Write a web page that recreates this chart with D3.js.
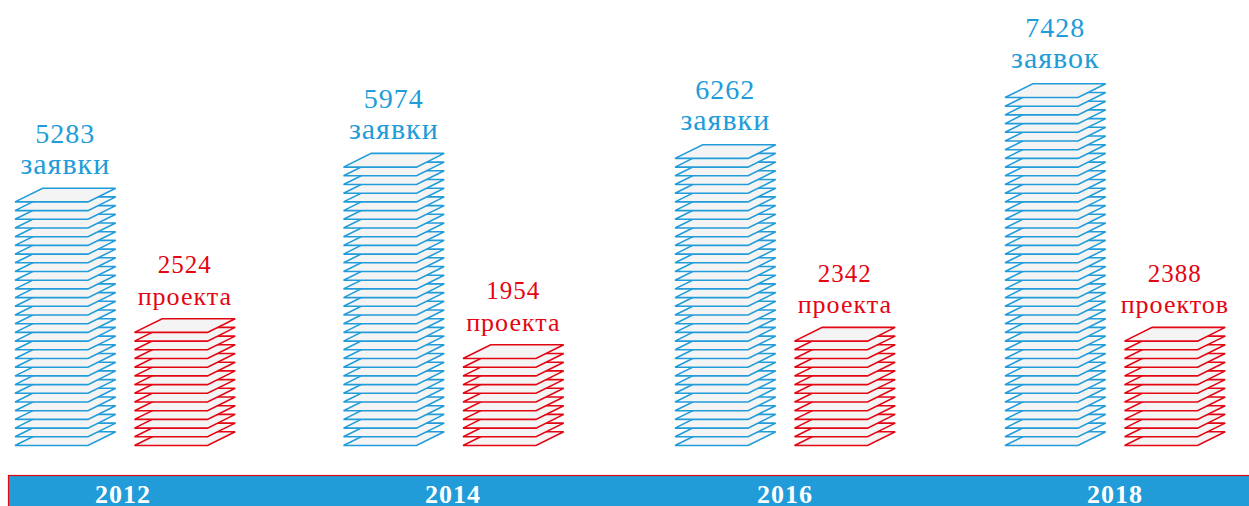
<!DOCTYPE html>
<html>
<head>
<meta charset="utf-8">
<script src="https://cdnjs.cloudflare.com/ajax/libs/d3/7.8.5/d3.min.js"></script>
<style>
html, body { margin: 0; padding: 0; background: #fff; overflow: hidden; }
text { font-family: "Liberation Serif", serif; text-anchor: middle; }
</style>
</head>
<body>
<div id="canvas"></div>
<script>
"use strict"

let svgWidth = 1249;
let svgHeight = 506;

/* Values */
let years = ["2012", "2014", "2016", "2018"];
let applications = [5283, 5974, 6262, 7428];
let applicationWords = ["заявки", "заявки", "заявки", "заявок"];
let projects = [2524, 1954, 2342, 2388];
let projectWords = ["проекта", "проекта", "проекта", "проектов"];
/* number of sheets drawn in each stack */
let applicationSheets = [29, 33, 34, 41];
let projectSheets = [14, 11, 13, 13];

let blue = "#219cd9";
let red = "#e30613";
let sheetFill = "#f4f4f4";

let sheetWidth = 73;
let sheetSkew = 27.7;
let sheetDepth = 13.7;
let redOffset = 119.5;

let svg = d3.select("#canvas")
    .append("svg")
    .attr("width", svgWidth)
    .attr("height", svgHeight)
    .style("display", "block");

/* Left edge of the blue stack of each year */
let xScale = d3.scaleOrdinal()
    .domain(years)
    .range([15, 343.5, 675, 1005]);

/* Centre of the year caption in the band */
let yearScale = d3.scaleOrdinal()
    .domain(years)
    .range([123, 453, 785, 1115]);

/* Sheet number to the y of its front edge */
let yScale = d3.scaleLinear()
    .domain([0, 40])
    .range([445.5, 97.5]);

let line = d3.line();

function drawStack(left, count, color) {
    let g = svg.append("g");
    /* bottom sheet first so the upper ones cover it */
    g.selectAll("path")
        .data(d3.range(count))
        .join("path")
        .attr("d", function (i) {
            let y = yScale(i);
            return line([
                [left, y],
                [left + sheetWidth, y],
                [left + sheetWidth + sheetSkew, y - sheetDepth],
                [left + sheetSkew, y - sheetDepth]
            ]) + "Z";
        })
        .attr("fill", sheetFill)
        .attr("stroke", color)
        .attr("stroke-width", 1.6)
        .attr("stroke-linejoin", "miter");
}

function drawLabel(left, count, number, word, color, sizes, gaps) {
    let cx = left + (sheetWidth + sheetSkew) / 2;
    let top = yScale(count - 1) - sheetDepth;
    svg.append("text")
        .attr("x", cx)
        .attr("y", top - gaps[0])
        .attr("fill", color)
        .style("font-size", sizes[0] + "px")
        .style("letter-spacing", "1px")
        .text(number);
    svg.append("text")
        .attr("x", cx)
        .attr("y", top - gaps[1])
        .attr("fill", color)
        .style("font-size", sizes[1] + "px")
        .style("letter-spacing", "1px")
        .text(word);
}

/* the higher stacks keep their captions a little further up */
let blueLift = [0, 0, 1, 2];

years.forEach(function (year, i) {
    let left = xScale(year);
    drawStack(left, applicationSheets[i], blue);
    drawStack(left + redOffset, projectSheets[i], red);
    drawLabel(left, applicationSheets[i], applications[i], applicationWords[i], blue, [28, 30], [45 + blueLift[i], 14 + blueLift[i]]);
    drawLabel(left + redOffset, projectSheets[i], projects[i], projectWords[i], red, [25, 26], [45.5, 14]);
});

/* Blue band with the years */
svg.append("rect")
    .attr("x", 8.5)
    .attr("y", 475.5)
    .attr("width", svgWidth)
    .attr("height", 40)
    .attr("fill", blue)
    .attr("stroke", red)
    .attr("stroke-width", 1.2);

svg.selectAll(".year")
    .data(years)
    .join("text")
    .attr("class", "year")
    .attr("x", function (d) { return yearScale(d); })
    .attr("y", 503)
    .attr("fill", "#fff")
    .style("font-size", "26px")
    .style("font-weight", "bold")
    .style("letter-spacing", "1px")
    .text(function (d) { return d; });
</script>
</body>
</html>
